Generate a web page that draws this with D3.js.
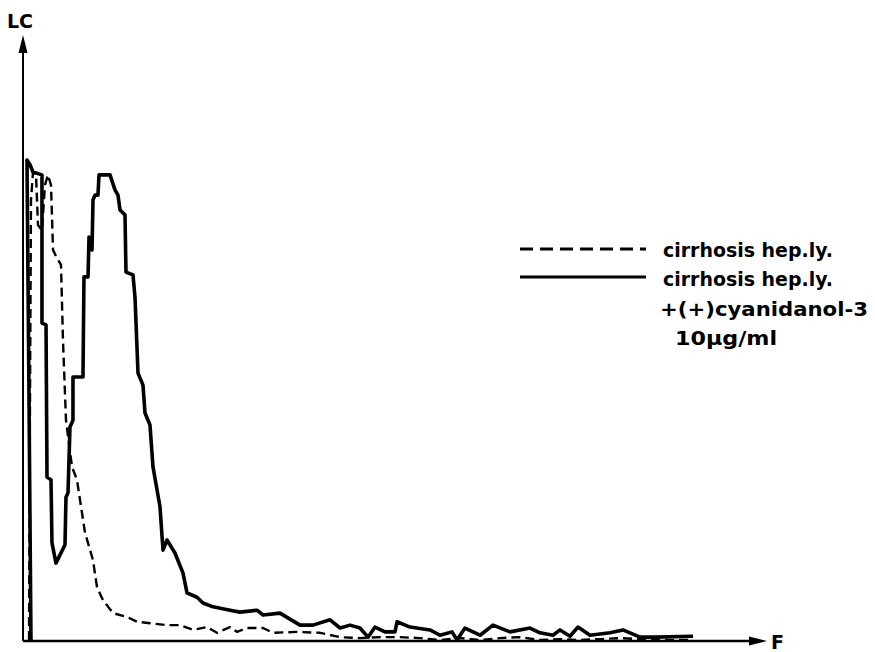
<!DOCTYPE html>
<html><head><meta charset="utf-8">
<script src="https://cdn.jsdelivr.net/npm/d3@7/dist/d3.min.js"></script>
<style>body{margin:0;background:#fff}svg{display:block}</style>
</head><body>
<svg id="c" width="875" height="652"></svg>
<script>
// Data in chart units: F (abscissa, arbitrary 0..105), LC (ordinate, peak = 100)
const dashedF  = [0.86,1.0,1.14,1.43,1.86,2.14,2.71,3.14,3.57,4.0,4.29,4.86,5.43,5.71,6.14,7.0,7.71,8.86,10.0,10.57,11.43,12.86,14.86,16.29,18.14,20.57,22.43,24.29,26.29,27.71,29.57,30.57,32.0,34.29,35.71,39.14,42.43,45.29,48.14,51.0,53.86,56.71,59.57,62.43,65.29,68.14,71.0,73.86,76.71,79.57,82.43,85.29,88.14,91.0,95.29];
const dashedLC = [0.2,50.1,91.7,97.5,96.9,86.5,85.4,94.8,96.9,94.8,81.3,79.6,78.2,62.6,45.9,36.2,33.5,22.5,16.8,11.2,8.5,5.8,5.0,4.0,3.7,3.3,3.3,2.3,2.9,1.7,2.9,1.9,2.7,2.7,1.7,1.9,1.7,0.8,0.6,0.8,0.8,0.6,0.2,0.6,0.2,0.6,0.8,0.2,0.4,0.2,0.4,0.6,0.4,0.2,0.2];
const solidF  = [1.14,0.86,0.57,1.0,1.43,2.71,2.71,3.29,3.43,4.0,4.14,4.71,6.0,6.14,6.43,6.71,7.14,7.14,8.57,8.71,9.29,9.43,9.71,9.86,10.0,10.29,10.71,10.86,12.43,13.14,13.57,13.86,14.57,14.71,15.71,16.0,16.43,17.14,17.43,18.14,18.57,19.57,20.0,20.57,21.71,22.86,23.43,24.86,25.71,27.14,29.57,31.0,33.43,34.29,36.71,39.57,41.43,43.86,45.29,46.71,48.14,49.29,50.29,51.71,53.14,53.43,55.29,58.14,59.57,61.29,62.0,63.14,65.29,67.14,69.57,72.43,73.86,75.71,76.71,78.14,79.29,81.0,83.86,85.71,88.14,90.29,95.71];
const solidLC = [0,50.1,100,99.0,97.5,96.9,66.1,65.7,34.1,33.5,20.4,16.2,20.0,29.9,30.8,44.5,45.9,54.9,54.9,75.7,75.7,84.0,83.4,81.3,91.7,92.7,92.7,96.9,96.9,93.8,92.7,89.6,88.6,76.7,76.1,71.5,55.7,53.2,47.4,44.9,36.2,27.9,18.9,21.0,18.3,14.1,10.0,9.1,7.9,7.1,6.4,6.0,6.4,5.4,5.8,3.3,3.3,4.4,2.7,3.3,2.7,0.8,2.9,1.9,1.9,4.0,2.9,2.3,1.2,1.9,0.2,2.7,1.2,3.3,1.9,2.7,1.7,1.2,2.3,1.0,2.9,1.2,1.7,2.3,0.8,0.8,1.0];
const legendLabels = ["cirrhosis hep.ly.", "cirrhosis hep.ly.", "+(+)cyanidanol-3", "10\u03BCg/ml"];
const axisLabels = {y: "LC", x: "F"};

const svg = d3.select("#c");
const x = d3.scaleLinear().domain([0, 105]).range([23, 758]);
const y = d3.scaleLinear().domain([0, 100]).range([641, 160]);
const FONT = "'DejaVu Sans', sans-serif";

// axes
svg.append("line").attr("x1", x(0)).attr("y1", y(0)).attr("x2", x(0)).attr("y2", 48)
  .attr("stroke", "#000").attr("stroke-width", 2);
svg.append("path").attr("d", `M${x(0)},35 L${x(0)-4.5},53 L${x(0)+4.5},53 Z`).attr("fill", "#000");
svg.append("line").attr("x1", x(0)).attr("y1", y(0)).attr("x2", 755).attr("y2", y(0))
  .attr("stroke", "#000").attr("stroke-width", 2.5);
svg.append("path").attr("d", `M767,${y(0)} L749,${y(0)-4.5} L749,${y(0)+4.5} Z`).attr("fill", "#000");

svg.append("text").attr("x", 7).attr("y", 28).text(axisLabels.y)
  .attr("font-family", FONT).attr("font-weight", "bold").attr("font-size", 19);
svg.append("text").attr("x", 771).attr("y", 649).text(axisLabels.x)
  .attr("font-family", FONT).attr("font-weight", "bold").attr("font-size", 19);

const line = d3.line().x(d => x(d[0])).y(d => y(d[1])).curve(d3.curveLinear);
const dashed = dashedF.map((f, i) => [f, dashedLC[i]]);
const solid = solidF.map((f, i) => [f, solidLC[i]]);

svg.append("path").datum(dashed).attr("d", line).attr("fill", "none")
  .attr("stroke", "#000").attr("stroke-width", 2.4).attr("stroke-dasharray", "9,5")
  .attr("stroke-linejoin", "round");
svg.append("path").datum(solid).attr("d", line).attr("fill", "none")
  .attr("stroke", "#000").attr("stroke-width", 3.6).attr("stroke-linejoin", "round");

// legend
svg.append("line").attr("x1", 520).attr("x2", 646).attr("y1", 249).attr("y2", 249)
  .attr("stroke", "#000").attr("stroke-width", 3).attr("stroke-dasharray", "13,7");
svg.append("line").attr("x1", 520).attr("x2", 646).attr("y1", 277).attr("y2", 277)
  .attr("stroke", "#000").attr("stroke-width", 3);
const lx = [663, 663, 660, 675], ly = [257, 286, 316, 345], lw = [170, 170, 208, 102];
legendLabels.forEach((t, i) => {
  svg.append("text").attr("x", lx[i]).attr("y", ly[i]).text(t)
    .attr("font-family", FONT).attr("font-weight", "bold").attr("font-size", 19)
    .attr("textLength", lw[i]).attr("lengthAdjust", "spacingAndGlyphs");
});
</script>
</body></html>
